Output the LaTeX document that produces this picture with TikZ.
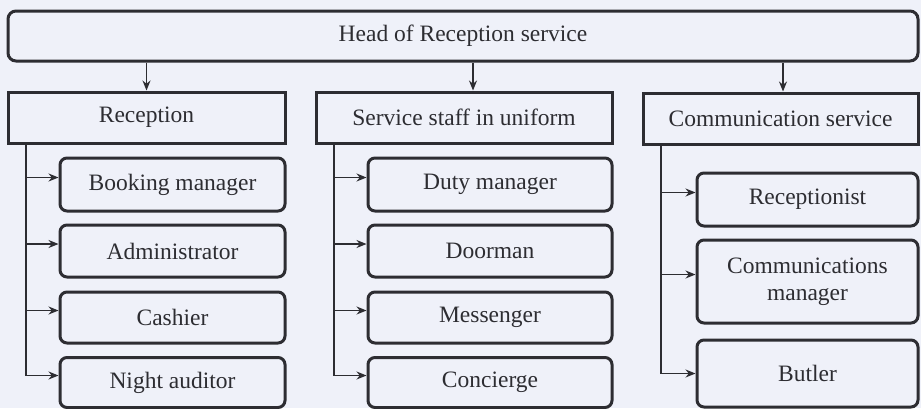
\documentclass[tikz,border=0pt]{standalone}
\usepackage{fontspec}
\setmainfont{Liberation Serif}
\usetikzlibrary{arrows.meta}
\definecolor{paper}{RGB}{239,241,249}
\definecolor{ink}{RGB}{45,45,50}
\begin{document}
\begin{tikzpicture}[x=1pt,y=-1pt,
  box/.style={draw=ink,line width=3pt,fill=paper,text=ink,inner sep=0pt,
    font=\fontsize{23.5}{27}\selectfont,align=center},
  unit/.style={box,minimum height=51pt},
  post/.style={box,rounded corners=7pt},
  arr/.style={draw=ink,line width=1.3pt,-{Stealth[length=10pt,width=8pt]}}]
  \fill[paper] (0,0) rectangle (921,408);
  \useasboundingbox (0,0) rectangle (921,408);
  % head
  \node[box,rounded corners=8pt,minimum width=910pt,minimum height=50pt] (head) at (463,36) {Head of Reception service};
  % services
  \node[unit,minimum width=277pt] (rec) at (146.5,117.5) {Reception};
  \node[unit,minimum width=296pt] (svc) at (464,117.5) {Service staff in uniform};
  \node[unit,minimum width=275pt] (com) at (780.5,118.5) {Communication service};
  \coordinate (svctop) at ([xshift=9pt]svc.north);
  \coordinate (comtop) at ([xshift=2.5pt]com.north);
  \draw[arr] (head.south -| rec.north) -- (rec.north);
  \draw[arr] (head.south -| svctop) -- (svctop);
  \draw[arr] (head.south -| comtop) -- (comtop);
  % reception
  \node[post,minimum width=225pt,minimum height=53pt] (book) at (172.5,184.5) {Booking manager};
  \node[post,minimum width=225pt,minimum height=52pt] (admin) at (172.5,251) {Administrator};
  \node[post,minimum width=225pt,minimum height=51pt] (cash) at (172.5,317.5) {Cashier};
  \node[post,minimum width=225pt,minimum height=50pt] (night) at (172.5,382.5) {Night auditor};
  % service staff
  \node[post,minimum width=244pt,minimum height=53pt] (duty) at (490,184.5) {Duty manager};
  \node[post,minimum width=244pt,minimum height=52pt] (door) at (490,251) {Doorman};
  \node[post,minimum width=244pt,minimum height=51pt] (mess) at (490,317.5) {Messenger};
  \node[post,minimum width=244pt,minimum height=50pt] (conc) at (490,382.5) {Concierge};
  % communication
  \node[post,minimum width=221pt,minimum height=53pt] (recp) at (807.5,199.5) {Receptionist};
  \node[post,minimum width=221pt,minimum height=83pt] (cman) at (807.5,281.5) {Communications\\manager};
  \node[post,minimum width=221pt,minimum height=67pt] (butl) at (807.5,373.5) {Butler};
  % connectors
  \foreach \u/\p in {rec/book,rec/admin,rec/cash,rec/night,svc/duty,svc/door,svc/mess,svc/conc,com/recp,com/cman}
    \draw[arr,line width=1.1pt] ([xshift=19.5pt,yshift=1.5pt]\u.south west) |- ([yshift=7pt]\p.west);
  \draw[arr,line width=1.1pt] ([xshift=19.5pt,yshift=1.5pt]com.south west) |- (butl.west);
\end{tikzpicture}
\end{document}
